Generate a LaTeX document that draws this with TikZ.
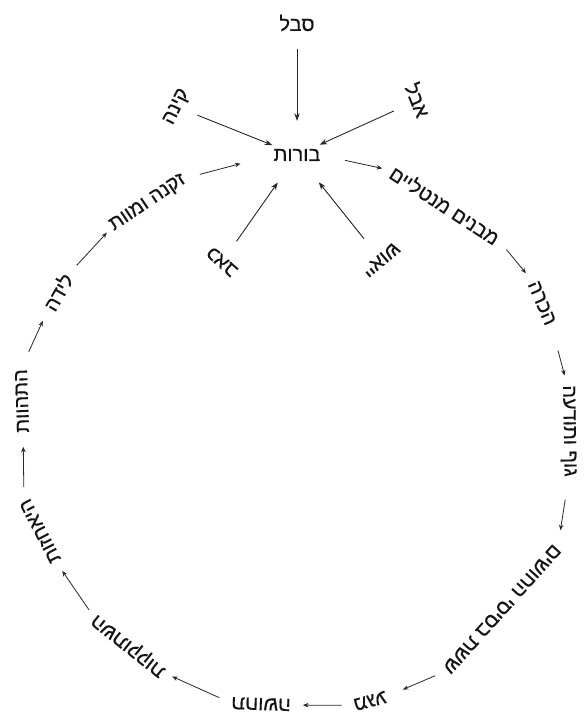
\documentclass[tikz,border=0pt]{standalone}
\usepackage{fontspec}
\newfontfamily\heb[Script=Hebrew,FakeBold=0.5]{Liberation Sans}
\TeXXeTstate=1
\usetikzlibrary{arrows.meta,calc}
\newcommand\hebr[1]{\beginR #1\endR}
\begin{document}
\begin{tikzpicture}[x=1pt,y=-1pt,
  lbl/.style={font=\heb\fontsize{20}{23}\selectfont, inner sep=0pt, text=black!92},
  flow/.style={-{Stealth[length=5.5pt,width=4.5pt]}, line width=0.8pt, draw=black!85},
  feed/.style={-{Stealth[length=7.5pt,width=5.5pt]}, line width=0.9pt, draw=black!85}]
\useasboundingbox (0,0) rectangle (585,716);
% centre
\node[lbl] (ign) at (297,155) {\hebr{בורות}};
% satellites
\node[lbl] (suf) at (297,23) {\hebr{סבל}};
\node[lbl, rotate=64] (lam) at (177,107) {\hebr{קינה}};
\node[lbl, rotate=-68] (gri) at (418,100) {\hebr{אבל}};
\node[lbl, rotate=138] (pai) at (222,262) {\hebr{כאב}};
\node[lbl, rotate=-140] (des) at (381,260) {\hebr{ייאוש}};
% wheel
\node[lbl, rotate=-33] (form) at (445,205) {\hebr{מבנים מנטליים}};
\node[lbl, rotate=-67] (cons) at (542,303) {\hebr{הכרה}};
\node[lbl, rotate=-89] (body) at (568,431) {\hebr{גוף ותודעה}};
\node[lbl, rotate=-132] (six) at (502,609) {\hebr{ששת בסיסי החושים}};
\node[lbl, rotate=-165] (cont) at (370,701) {\hebr{מגע}};
\node[lbl, rotate=178] (feel) at (261,704) {\hebr{תחושה}};
\node[lbl, rotate=141.5] (crav) at (129,645) {\hebr{השתוקקות}};
\node[lbl, rotate=117.5] (clin) at (40,531) {\hebr{היאחזות}};
\node[lbl, rotate=92] (beco) at (22,401) {\hebr{התהוות}};
\node[lbl, rotate=60] (birt) at (58,292) {\hebr{לידה}};
\node[lbl, rotate=34] (age) at (148,203) {\hebr{זקנה ומוות}};
% wheel arrows
\draw[flow, shorten <=25pt, shorten >=10pt] (ign.east) -- (form.west);
\draw[flow, shorten <=13pt, shorten >=11pt] (form.east) -- (cons.west);
\draw[flow, shorten <=27pt, shorten >=10pt] (cons.east) -- (body.west);
\draw[flow, shorten <=23pt, shorten >=17pt] (body.east) -- (six.west);
\draw[flow, shorten <=12pt, shorten >=18pt] (six.east) -- (cont.west);
\draw[flow, shorten <=12pt, shorten >=12pt] (cont.east) -- (feel.west);
\draw[flow, shorten <=13pt, shorten >=9pt] (feel.east) -- (crav.west);
\draw[flow, shorten <=9pt, shorten >=11pt] (crav.east) -- (clin.west);
\draw[flow, shorten <=13pt, shorten >=14pt] (clin.east) -- (beco.west);
\draw[flow, shorten <=19pt, shorten >=13pt] (beco.east) -- (birt.west);
\draw[flow, shorten <=13pt, shorten >=7pt] (birt.east) -- (age.west);
\draw[flow, shorten <=16pt, shorten >=34pt] (age.east) -- (ign.west);
% feeding arrows
\draw[feed, shorten <=17pt, shorten >=28pt] (suf) -- (ign);
\draw[feed, shorten <=14pt, shorten >=10pt] (lam) -- (ign);
\draw[feed, shorten <=18pt, shorten >=10pt] (gri) -- (ign);
\draw[feed, shorten <=19pt, shorten >=26pt] (pai) -- (ign);
\draw[feed, shorten <=21pt, shorten >=27pt] (des) -- (ign);
\end{tikzpicture}
\end{document}
